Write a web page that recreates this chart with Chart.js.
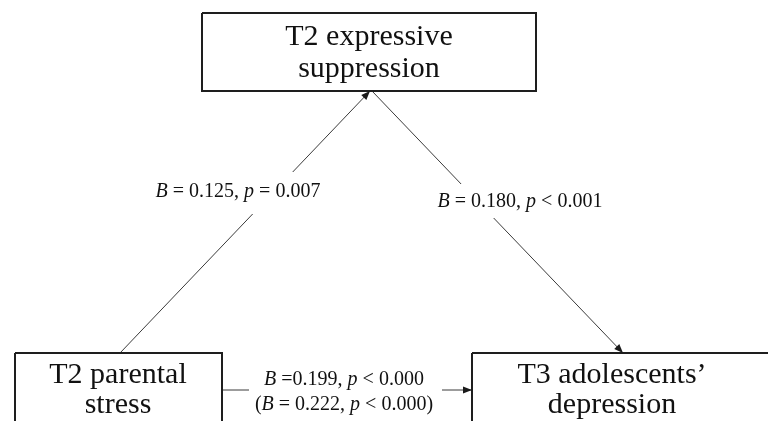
<!DOCTYPE html>
<html>
<head>
<meta charset="utf-8">
<script src="https://cdn.jsdelivr.net/npm/chart.js@4.4.1/dist/chart.umd.min.js"></script>
<style>
  html, body { margin: 0; padding: 0; background: #ffffff; }
  canvas { display: block; }
</style>
</head>
<body>
<canvas id="path-chart" width="768" height="421"></canvas>
<script>
// node texts (two lines each) and path coefficients
const nodeNames = [
  ['T2 expressive', 'suppression'],
  ['T2 parental', 'stress'],
  ['T3 adolescents\u2019', 'depression']
];
const pathLabels = [
  ['B = 0.125, p = 0.007'],
  ['B = 0.180, p < 0.001'],
  ['B =0.199, p < 0.000', '(B = 0.222, p < 0.000)']
];
const pathFrom = [1, 0, 1];
const pathTo = [0, 2, 2];

// layout in diagram units (same as pixels of the 768x421 picture)
const boxes = [
  {x0: 202, x1: 536, y0: 13, y1: 91, tx: 369, ty: [45, 77]},
  {x0: 15, x1: 222, y0: 353, y1: 460, tx: 118, ty: [383, 413]},
  {x0: 472, x1: 960, y0: 353, y1: 460, tx: 612, ty: [383, 413]}
];
const edges = [
  {from: {x: 120, y: 353}, to: {x: 370, y: 91}, lx: 238, ly: [197], gap: [248, 172, 296, 214]},
  {from: {x: 372, y: 91}, to: {x: 623, y: 353}, lx: 520, ly: [207], gap: [436, 184, 604, 218]},
  {from: {x: 222, y: 390}, to: {x: 472, y: 390}, lx: 344, ly: [385, 410], gap: [249, 366, 442, 416]}
];

const serif = '"Liberation Serif", "Times New Roman", serif';

function boxPoints(b) {
  return [
    {x: b.x0, y: b.y0}, {x: b.x1, y: b.y0}, {x: b.x1, y: b.y1},
    {x: b.x0, y: b.y1}, {x: b.x0, y: b.y0}
  ];
}

function drawRich(ctx, text, cx, y, size) {
  const parts = text.split(/(B|p)/).filter((s) => s.length);
  const fontFor = (s) => ((s === 'B' || s === 'p') ? 'italic ' : '') + size + 'px ' + serif;
  let total = 0;
  parts.forEach((s) => {
    ctx.font = fontFor(s);
    total += ctx.measureText(s).width;
  });
  let x = cx - total / 2;
  parts.forEach((s) => {
    ctx.font = fontFor(s);
    ctx.fillText(s, x, y);
    x += ctx.measureText(s).width;
  });
}

const diagramPlugin = {
  id: 'diagramPlugin',
  afterDatasetsDraw(chart) {
    const {ctx} = chart;
    const sx = chart.scales.x;
    const sy = chart.scales.y;
    const px = (v) => sx.getPixelForValue(v);
    const py = (v) => sy.getPixelForValue(v);
    ctx.save();

    // arrowheads
    ctx.fillStyle = '#1a1a1a';
    edges.forEach((e) => {
      const x1 = px(e.to.x), y1 = py(e.to.y);
      const ang = Math.atan2(y1 - py(e.from.y), x1 - px(e.from.x));
      const len = 9, half = 3.5;
      ctx.beginPath();
      ctx.moveTo(x1, y1);
      ctx.lineTo(x1 - len * Math.cos(ang) + half * Math.sin(ang), y1 - len * Math.sin(ang) - half * Math.cos(ang));
      ctx.lineTo(x1 - len * Math.cos(ang) - half * Math.sin(ang), y1 - len * Math.sin(ang) + half * Math.cos(ang));
      ctx.closePath();
      ctx.fill();
    });

    // path labels over white gaps
    ctx.textBaseline = 'alphabetic';
    edges.forEach((e, i) => {
      ctx.fillStyle = '#ffffff';
      ctx.fillRect(px(e.gap[0]), py(e.gap[1]), px(e.gap[2]) - px(e.gap[0]), py(e.gap[3]) - py(e.gap[1]));
      ctx.fillStyle = '#111111';
      pathLabels[i].forEach((line, j) => {
        drawRich(ctx, line, px(e.lx), py(e.ly[j]), 20);
      });
    });

    // node labels
    ctx.fillStyle = '#111111';
    ctx.textAlign = 'center';
    ctx.font = '30px ' + serif;
    boxes.forEach((b, i) => {
      nodeNames[i].forEach((line, j) => {
        ctx.fillText(line, px(b.tx), py(b.ty[j]));
      });
    });
    ctx.restore();
  }
};

const datasets = [];
boxes.forEach((b) => {
  datasets.push({
    data: boxPoints(b),
    showLine: true,
    borderColor: '#1e1e1e',
    borderWidth: 2,
    pointRadius: 0,
    fill: false
  });
});
edges.forEach((e, i) => {
  datasets.push({
    label: nodeNames[pathFrom[i]][0] + ' -> ' + nodeNames[pathTo[i]][0],
    data: [e.from, e.to],
    showLine: true,
    borderColor: '#3a3a3a',
    borderWidth: 1,
    pointRadius: 0,
    fill: false
  });
});

new Chart(document.getElementById('path-chart'), {
  type: 'scatter',
  data: {datasets: datasets},
  options: {
    responsive: false,
    animation: false,
    layout: {padding: 0},
    scales: {
      x: {type: 'linear', min: 0, max: 768, display: false},
      y: {type: 'linear', min: 0, max: 421, reverse: true, display: false}
    },
    plugins: {
      legend: {display: false},
      tooltip: {enabled: false}
    }
  },
  plugins: [diagramPlugin]
});
</script>
</body>
</html>
